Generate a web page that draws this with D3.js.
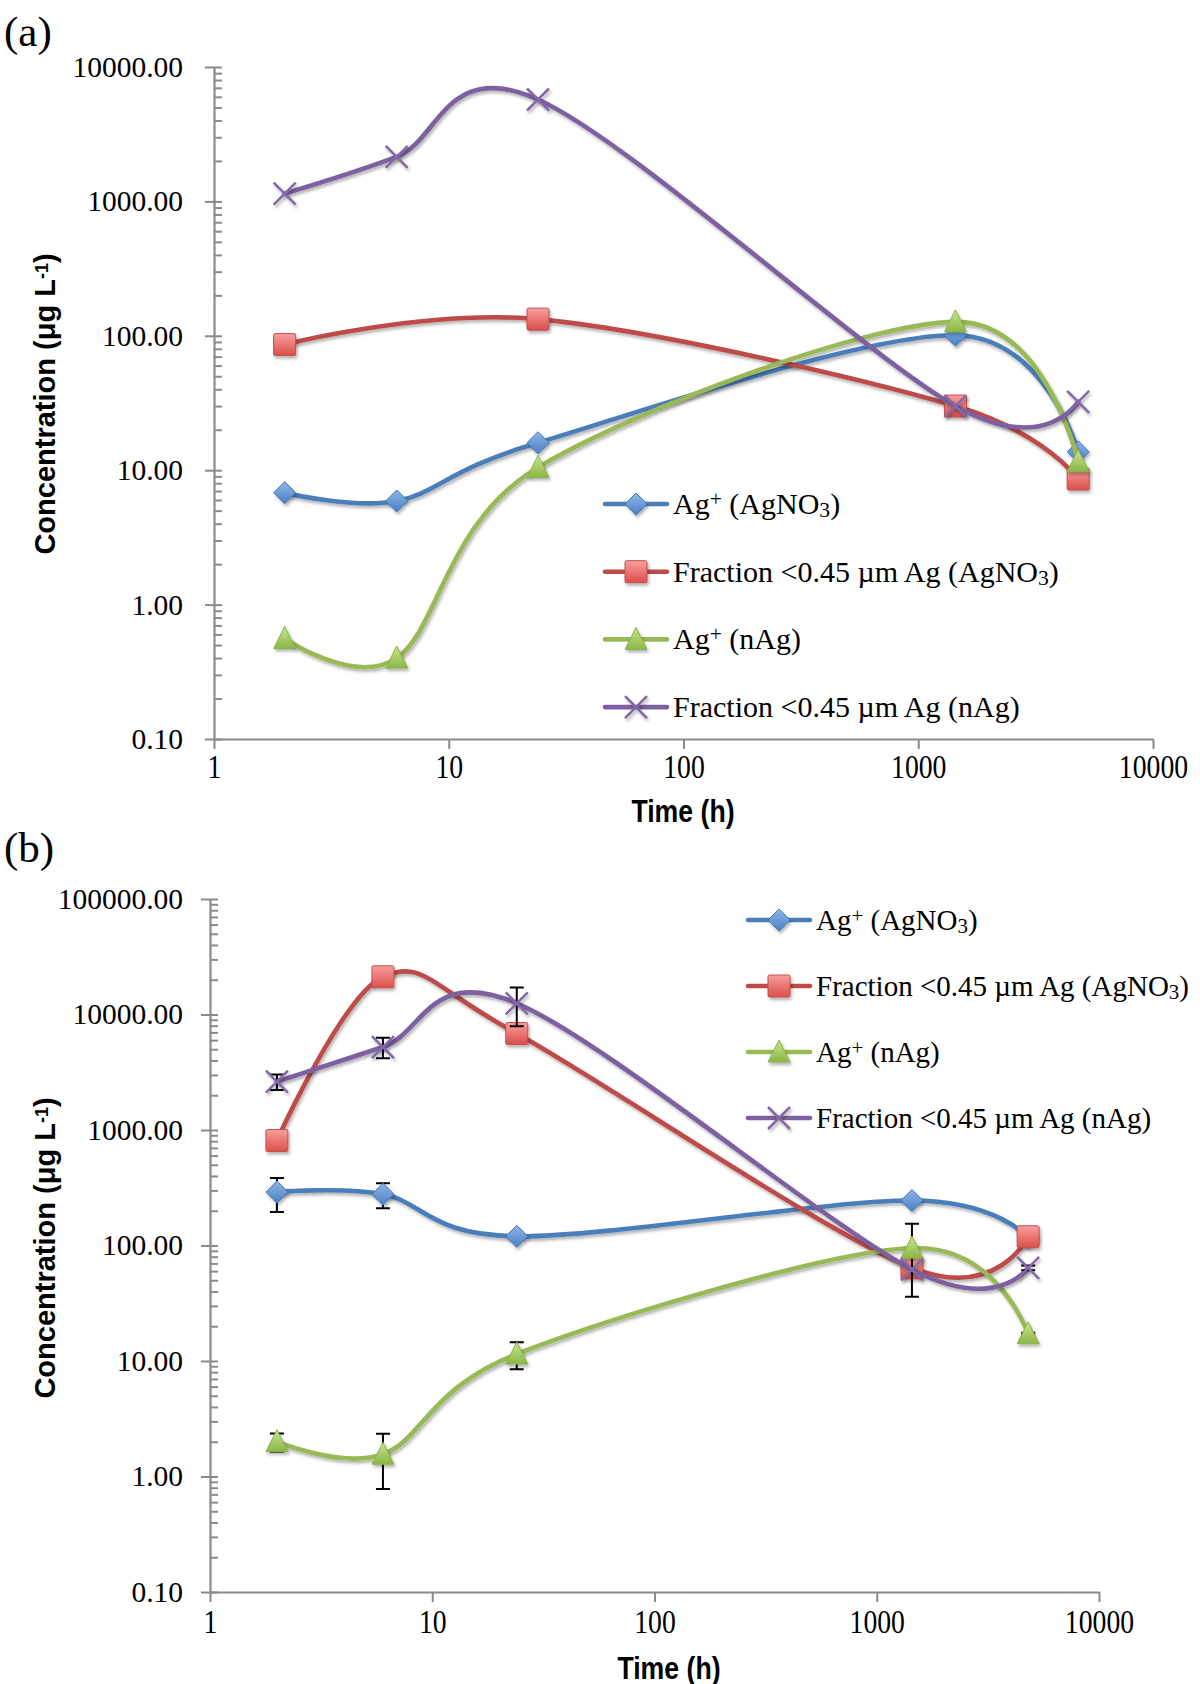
<!DOCTYPE html>
<html>
<head>
<meta charset="utf-8">
<script src="https://cdn.jsdelivr.net/npm/d3@7"></script>
<style>
body{margin:0;background:#fff}
svg{display:block}
</style>
</head>
<body>
<script>
var hours=[2,6,24,1440,4800];
var xTicks=[1,10,100,1000,10000];
var yTicksA=[0.1,1,10,100,1000,10000];
var yTicksB=[0.1,1,10,100,1000,10000,100000];

// panel (a)
var aIonAgNO3=[6.8,5.9,16,101,13.7];
var aFracAgNO3=[86,null,133,30,8.6];
var aIonNAg=[0.56,0.40,10.5,127,11.6];
var aFracNAg=[1143,2143,5730,30,32.3];

// panel (b), with error bars
var bIonAgNO3=[290,278,120,245,117];
var bIonAgNO3Err=[95,68,0,0,0];
var bFracAgNO3=[810,21200,6840,64,119];
var bIonNAg=[2.0,1.56,11.5,95,17.2];
var bIonNAgErr=[0.36,0.78,3.0,59,0.4];
var bFracNAg=[2620,5230,12500,62,64];
var bFracNAgErr=[400,1050,4600,0,3];

var legendLabels=[
  [["Ag"],["+","sup"],[" (AgNO"],["3","sub"],[")"]],
  [["Fraction <0.45 \u00b5m Ag (AgNO"],["3","sub"],[")"]],
  [["Ag"],["+","sup"],[" (nAg)"]],
  [["Fraction <0.45 \u00b5m Ag (nAg)"]]
];

var blue='#4A7EBB', red='#BE4B48', green='#98B954', purple='#7D60A0';
var axisgrey='#8a8a8a';
var serif='"Liberation Serif","Times New Roman",serif';
var sans='"Liberation Sans",Arial,sans-serif';

var svg=d3.select('body').append('svg').attr('width',1200).attr('height',1684);

var defs=svg.append('defs');
var sh=defs.append('filter').attr('id','shadow').attr('x','-30%').attr('y','-30%').attr('width','160%').attr('height','160%');
sh.append('feDropShadow').attr('dx',1.5).attr('dy',2.5).attr('stdDeviation',1.6)
  .attr('flood-color','#000').attr('flood-opacity',0.3);
function grad(id,c1,c2){
  var g=defs.append('linearGradient').attr('id',id).attr('x1',0).attr('y1',0).attr('x2',0).attr('y2',1);
  g.append('stop').attr('offset','0%').attr('stop-color',c1);
  g.append('stop').attr('offset','100%').attr('stop-color',c2);
}
grad('gBlue','#8DB6E8','#4A80C4');
grad('gRed','#F7A09E','#DC4D49');
grad('gGreen','#C9E58F','#8CB648');

function marker(g,type,cx,cy){
  if(type=='diamond'){
    g.append('path').attr('d','M'+cx+','+(cy-11)+'L'+(cx+11)+','+cy+'L'+cx+','+(cy+11)+'L'+(cx-11)+','+cy+'Z')
     .attr('fill','url(#gBlue)').attr('stroke','#4477B6').attr('stroke-width',1)
  } else if(type=='square'){
    g.append('rect').attr('x',cx-11).attr('y',cy-11).attr('width',22).attr('height',22).attr('rx',1.5)
     .attr('fill','url(#gRed)').attr('stroke','#C0504D').attr('stroke-width',1)
  } else if(type=='triangle'){
    g.append('path').attr('d','M'+cx+','+(cy-12)+'L'+(cx+11)+','+(cy+10)+'L'+(cx-11)+','+(cy+10)+'Z')
     .attr('fill','url(#gGreen)').attr('stroke','#8AB34A').attr('stroke-width',1)
  } else {
    g.append('path').attr('d','M'+(cx-11)+','+(cy-11)+'L'+(cx+11)+','+(cy+11)+'M'+(cx+11)+','+(cy-11)+'L'+(cx-11)+','+(cy+11))
     .attr('stroke','#8467A8').attr('stroke-width',2.5).attr('fill','none')
  }
}

function richText(t,parts){
  parts.forEach(function(p){
    var ts=t.append('tspan').text(p[0]);
    if(p[1]=='sup') ts.attr('baseline-shift','35%').style('font-size','0.72em');
    if(p[1]=='sub') ts.attr('baseline-shift','-14%').style('font-size','0.72em');
  })
}

function panel(cfg){
  var g=svg.append('g');
  var x=d3.scaleLog().domain([1,10000]).range(cfg.xr);
  var y=d3.scaleLog().domain(cfg.yd).range(cfg.yr);
  var x0=cfg.xr[0], y0=cfg.yr[0];

  // minor ticks on the inside of the y axis
  var minors=[];
  cfg.yTicks.forEach(function(v,i){
    if(i<cfg.yTicks.length-1) for(var k=1;k<10;k++) minors.push(v*k);
  });
  minors.push(cfg.yd[1]);
  g.append('g').attr('transform','translate('+x0+',0)')
    .call(d3.axisRight(y).tickValues(minors).tickSize(8).tickSizeOuter(0).tickFormat(''))
    .call(function(a){a.select('.domain').remove()})
    .selectAll('line').attr('stroke',axisgrey).attr('stroke-width',2);

  var ya=g.append('g').attr('transform','translate('+x0+',0)')
    .call(d3.axisLeft(y).tickValues(cfg.yTicks).tickFormat(d3.format('.2f'))
      .tickSize(9).tickSizeOuter(0).tickPadding(x0-192));
  ya.select('.domain').attr('stroke',axisgrey).attr('stroke-width',2.2);
  ya.selectAll('line').attr('stroke',axisgrey).attr('stroke-width',2);
  ya.selectAll('text').style('font-family',serif).style('font-size','29.5px').attr('fill','#000');

  var xa=g.append('g').attr('transform','translate(0,'+y0+')')
    .call(d3.axisBottom(x).tickValues(xTicks).tickFormat(d3.format('d')).tickSize(10).tickSizeOuter(0));
  xa.select('.domain').attr('stroke',axisgrey).attr('stroke-width',2.2);
  xa.selectAll('line').attr('stroke',axisgrey).attr('stroke-width',2);
  xa.selectAll('text').style('font-family',serif).style('font-size','33px').attr('fill','#000')
    .attr('y',cfg.xlab).attr('dy','0.35em').attr('transform','scale(0.84,1)');

  // axis titles
  g.append('text').attr('transform','translate('+cfg.xt[0]+','+cfg.xt[1]+') scale(0.86,1)')
    .attr('text-anchor','middle').attr('dy','0.35em')
    .style('font-family',sans).style('font-weight','bold').style('font-size','31px')
    .text('Time (h)');
  var yt=g.append('text').attr('transform','translate(55,'+cfg.ytc+') rotate(-90)')
    .attr('text-anchor','middle')
    .style('font-family',sans).style('font-weight','bold').style('font-size','29px');
  yt.append('tspan').text('Concentration (\u03bcg L');
  yt.append('tspan').text('-1').attr('baseline-shift','40%').style('font-size','0.62em');
  yt.append('tspan').text(')');

  g.append('text').attr('x',4).attr('y',cfg.tag[1]).text(cfg.tag[0])
    .style('font-family',serif).style('font-size','43px');

  var line=d3.line().x(function(d){return x(d.t)}).y(function(d){return y(d.v)})
    .curve(d3.curveCardinal.tension(0));

  cfg.series.forEach(function(s){
    var pts=hours.map(function(t,i){return {t:t,v:s.vals[i],e:s.err?s.err[i]:0}})
      .filter(function(d){return d.v!=null});
    var sg=g.append('g');
    sg.append('path').datum(pts).attr('d',line).attr('fill','none')
      .attr('stroke',s.color).attr('stroke-width',4.6).attr('stroke-linecap','round')
      .attr('filter','url(#shadow)');
    pts.forEach(function(d){
      if(d.e>0){
        var cx=x(d.t), t=y(d.v+d.e), b=y(Math.max(d.v-d.e,cfg.yd[0]));
        sg.append('path').attr('d','M'+cx+','+t+'V'+b+'M'+(cx-7)+','+t+'H'+(cx+7)+'M'+(cx-7)+','+b+'H'+(cx+7))
          .attr('stroke','#000').attr('stroke-width',2).attr('fill','none');
      }
    });
    var mg=sg.append('g').attr('filter','url(#shadow)');
    pts.forEach(function(d){marker(mg,s.marker,x(d.t),y(d.v))});
  });

  // legend
  cfg.series.forEach(function(s,i){
    var ly=cfg.leg[1]+i*cfg.leg[2], lx=cfg.leg[0];
    var lg=g.append('g');
    lg.append('line').attr('x1',lx).attr('x2',lx+62).attr('y1',ly).attr('y2',ly)
      .attr('stroke',s.color).attr('stroke-width',4.6).attr('stroke-linecap','round');
    var mg=lg.append('g').attr('filter','url(#shadow)');
    marker(mg,s.marker,lx+31,ly);
    var t=lg.append('text').attr('x',lx+68).attr('y',ly).attr('dy','0.33em')
      .style('font-family',serif).style('font-size',cfg.legFont+'px');
    richText(t,legendLabels[i]);
  });
}

panel({
  xr:[214,1153], yd:[0.1,10000], yr:[739,67], yTicks:yTicksA,
  xlab:27, xt:[683,811], ytc:404, tag:['(a)',46], leg:[605,504,67.7], legFont:30,
  series:[
    {vals:aIonAgNO3,color:blue,marker:'diamond'},
    {vals:aFracAgNO3,color:red,marker:'square'},
    {vals:aIonNAg,color:green,marker:'triangle'},
    {vals:aFracNAg,color:purple,marker:'cross'}
  ]
});

panel({
  xr:[210,1099], yd:[0.1,100000], yr:[1592,899], yTicks:yTicksB,
  xlab:29, xt:[669,1668], ytc:1248, tag:['(b)',862], leg:[748,920,66], legFont:29,
  series:[
    {vals:bIonAgNO3,err:bIonAgNO3Err,color:blue,marker:'diamond'},
    {vals:bFracAgNO3,color:red,marker:'square'},
    {vals:bIonNAg,err:bIonNAgErr,color:green,marker:'triangle'},
    {vals:bFracNAg,err:bFracNAgErr,color:purple,marker:'cross'}
  ]
});
</script>
</body>
</html>
